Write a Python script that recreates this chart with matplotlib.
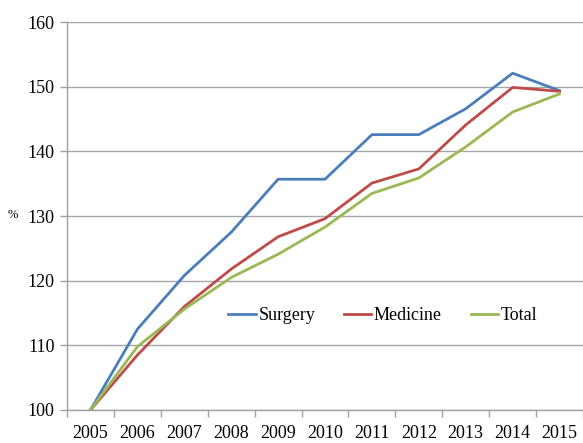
import matplotlib
matplotlib.use("Agg")
import matplotlib.pyplot as plt

years = ["2005", "2006", "2007", "2008", "2009", "2010",
         "2011", "2012", "2013", "2014", "2015"]
surgery = [100, 112.5, 120.8, 127.5, 135.7, 135.7, 142.6, 142.6, 146.6, 152.1, 149.4]
medicine = [100, 108.5, 116.0, 121.8, 126.8, 129.6, 135.1, 137.3, 144.1, 149.9, 149.3]
total = [100, 109.8, 115.6, 120.5, 124.1, 128.3, 133.5, 135.9, 140.7, 146.1, 148.9]

plt.rcParams['font.family'] = ['Liberation Serif', 'DejaVu Serif']

fig = plt.figure(figsize=(5.83, 4.43), dpi=100)
ax = fig.add_axes([0.115, 0.0745, 0.885, 0.8755])

x = range(len(years))
ax.plot(x, surgery, color='#4A7EBB', lw=2.0, label='Surgery')
ax.plot(x, medicine, color='#BE4B48', lw=2.0, label='Medicine')
ax.plot(x, total, color='#98B954', lw=2.0, label='Total')

ax.set_xlim(-0.5, len(years) - 0.5)
ax.set_ylim(100, 160)
ax.set_yticks(range(100, 161, 10))
ax.set_xticks(list(x))
ax.set_xticklabels(years)
ax.set_xticks([i - 0.5 for i in range(len(years) + 1)], minor=True)
ax.tick_params(axis='x', which='major', length=0, pad=11, labelsize=13)
ax.tick_params(axis='x', which='minor', length=5, color='#A0A0A0', width=1)
ax.tick_params(axis='y', length=5, color='#A0A0A0', width=1, labelsize=13, pad=4)

ax.grid(axis='y', color='#A6A6A6', lw=1)
ax.set_axisbelow(True)
for s in ['top', 'right']:
    ax.spines[s].set_visible(False)
for s in ['left', 'bottom']:
    ax.spines[s].set_color('#A0A0A0')
    ax.spines[s].set_linewidth(1)

fig.text(0.022, 0.515, '%', fontsize=9, ha='center', va='center')

ax.legend(loc='center', bbox_to_anchor=(0.612, 0.243), ncol=3, frameon=False,
          fontsize=13, handlelength=1.5, handletextpad=0.15, columnspacing=1.6)

fig.savefig('out.png', dpi=100, facecolor='white')
